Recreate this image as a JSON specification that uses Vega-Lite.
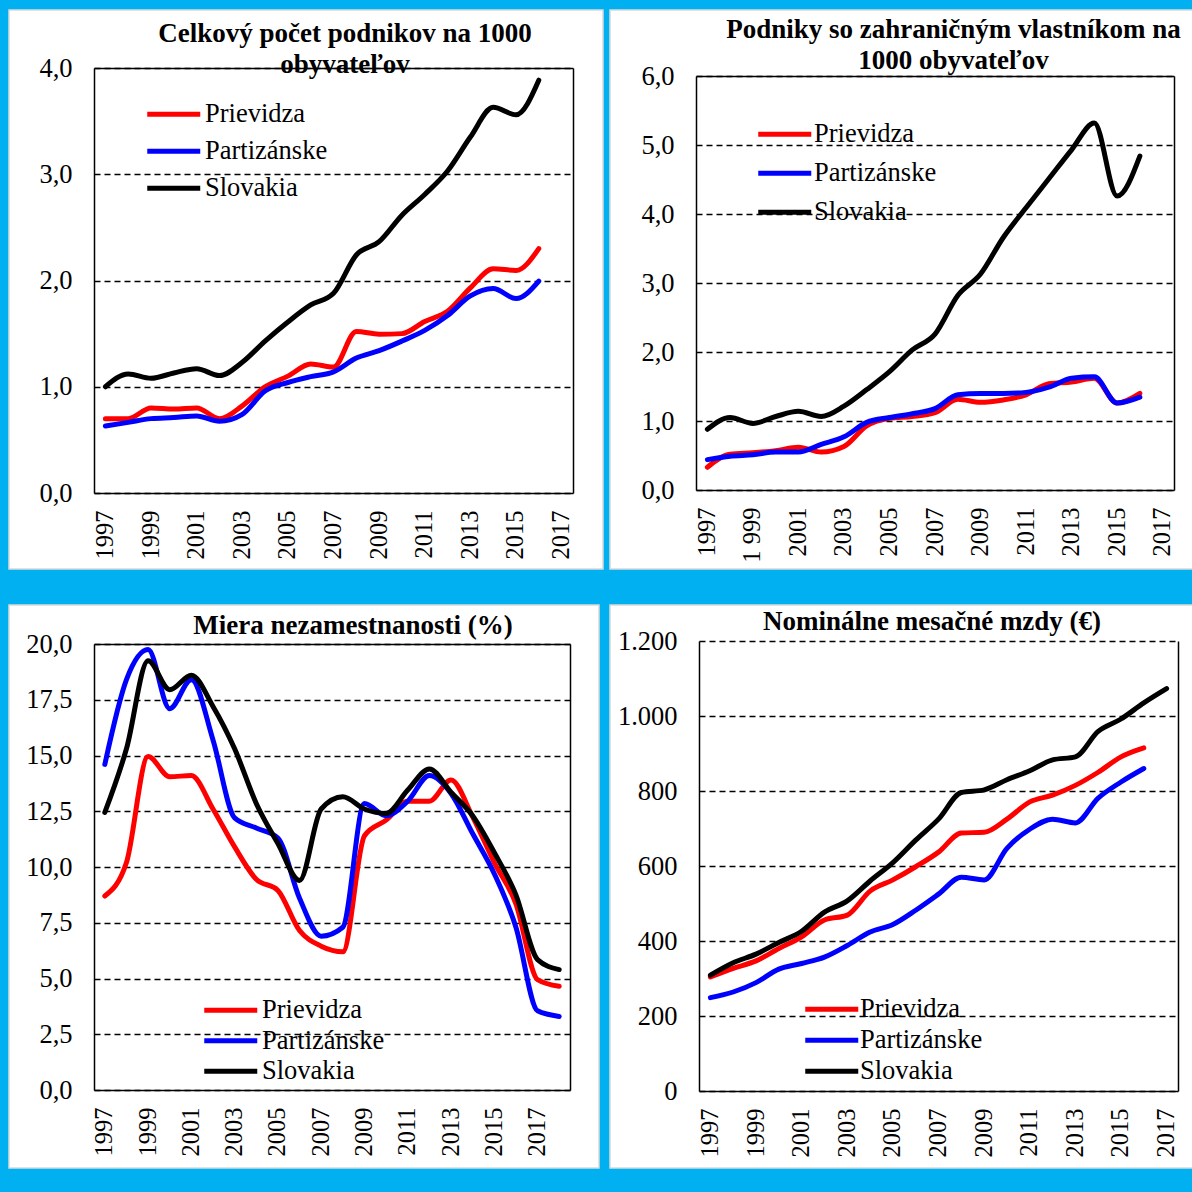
{
  "$schema": "https://vega.github.io/schema/vega-lite/v6.json",
  "background": "#00B0F0",
  "padding": {"left": 8, "top": 9, "right": 0, "bottom": 25},
  "autosize": {"type": "pad"},
  "columns": 2,
  "spacing": {"row": 36, "column": 7},
  "bounds": "flush",
  "align": "none",
  "resolve": {"scale": {"color": "independent"}, "legend": {"color": "independent"}},
  "config": {
    "locale": {"number": {"decimal": ",", "thousands": ".", "grouping": [3], "currency": ["", " €"]}},
    "font": "Liberation Serif",
    "style": {"guide-label": {"font": "Liberation Serif", "fill": "#000000"}},
    "axis": {"labelFont": "Liberation Serif", "labelColor": "#000000", "ticks": false, "domainColor": "#000000", "domainWidth": 1.5, "gridColor": "#000000", "gridDash": [6, 4], "gridWidth": 1.5, "gridOpacity": 1},
    "axisX": {"labelAngle": -90, "labelFontSize": 24.5, "labelPadding": 17, "grid": false},
    "axisY": {"labelFontSize": 26.5, "labelPadding": 22, "grid": true},
    "legend": {"orient": "none", "title": null, "symbolType": "M-1,0H9.6", "symbolStrokeWidth": 5, "symbolSize": 100, "labelFont": "Liberation Serif", "labelFontSize": 26.5, "labelColor": "#000000", "padding": 0, "labelLimit": 400},
    "title": {"font": "Liberation Serif", "fontSize": 27, "fontWeight": "bold", "color": "#000000", "anchor": "middle", "frame": "group", "lineHeight": 31, "offset": 0}
  },
  "datasets": {
    "p1": [
      {"y":1997,"s":"Prievidza","v":0.70},{"y":1997,"s":"Partizánske","v":0.63},{"y":1997,"s":"Slovakia","v":1.00},
      {"y":1998,"s":"Prievidza","v":0.70},{"y":1998,"s":"Partizánske","v":0.665},{"y":1998,"s":"Slovakia","v":1.12},
      {"y":1999,"s":"Prievidza","v":0.80},{"y":1999,"s":"Partizánske","v":0.70},{"y":1999,"s":"Slovakia","v":1.08},
      {"y":2000,"s":"Prievidza","v":0.79},{"y":2000,"s":"Partizánske","v":0.71},{"y":2000,"s":"Slovakia","v":1.13},
      {"y":2001,"s":"Prievidza","v":0.80},{"y":2001,"s":"Partizánske","v":0.725},{"y":2001,"s":"Slovakia","v":1.17},
      {"y":2002,"s":"Prievidza","v":0.70},{"y":2002,"s":"Partizánske","v":0.675},{"y":2002,"s":"Slovakia","v":1.105},
      {"y":2003,"s":"Prievidza","v":0.82},{"y":2003,"s":"Partizánske","v":0.74},{"y":2003,"s":"Slovakia","v":1.23},
      {"y":2004,"s":"Prievidza","v":1.00},{"y":2004,"s":"Partizánske","v":0.96},{"y":2004,"s":"Slovakia","v":1.43},
      {"y":2005,"s":"Prievidza","v":1.10},{"y":2005,"s":"Partizánske","v":1.04},{"y":2005,"s":"Slovakia","v":1.61},
      {"y":2006,"s":"Prievidza","v":1.215},{"y":2006,"s":"Partizánske","v":1.095},{"y":2006,"s":"Slovakia","v":1.77},
      {"y":2007,"s":"Prievidza","v":1.185},{"y":2007,"s":"Partizánske","v":1.14},{"y":2007,"s":"Slovakia","v":1.88},
      {"y":2008,"s":"Prievidza","v":1.52},{"y":2008,"s":"Partizánske","v":1.27},{"y":2008,"s":"Slovakia","v":2.24},
      {"y":2009,"s":"Prievidza","v":1.495},{"y":2009,"s":"Partizánske","v":1.34},{"y":2009,"s":"Slovakia","v":2.365},
      {"y":2010,"s":"Prievidza","v":1.50},{"y":2010,"s":"Partizánske","v":1.43},{"y":2010,"s":"Slovakia","v":2.615},
      {"y":2011,"s":"Prievidza","v":1.615},{"y":2011,"s":"Partizánske","v":1.53},{"y":2011,"s":"Slovakia","v":2.81},
      {"y":2012,"s":"Prievidza","v":1.71},{"y":2012,"s":"Partizánske","v":1.67},{"y":2012,"s":"Slovakia","v":3.03},
      {"y":2013,"s":"Prievidza","v":1.93},{"y":2013,"s":"Partizánske","v":1.855},{"y":2013,"s":"Slovakia","v":3.35},
      {"y":2014,"s":"Prievidza","v":2.11},{"y":2014,"s":"Partizánske","v":1.925},{"y":2014,"s":"Slovakia","v":3.63},
      {"y":2015,"s":"Prievidza","v":2.095},{"y":2015,"s":"Partizánske","v":1.83},{"y":2015,"s":"Slovakia","v":3.56},
      {"y":2016,"s":"Prievidza","v":2.30},{"y":2016,"s":"Partizánske","v":1.995},{"y":2016,"s":"Slovakia","v":3.885}
    ],
    "p2": [
      {"y":1997,"s":"Prievidza","v":0.33},{"y":1997,"s":"Partizánske","v":0.44},{"y":1997,"s":"Slovakia","v":0.88},
      {"y":1998,"s":"Prievidza","v":0.52},{"y":1998,"s":"Partizánske","v":0.49},{"y":1998,"s":"Slovakia","v":1.05},
      {"y":1999,"s":"Prievidza","v":0.54},{"y":1999,"s":"Partizánske","v":0.51},{"y":1999,"s":"Slovakia","v":0.965},
      {"y":2000,"s":"Prievidza","v":0.57},{"y":2000,"s":"Partizánske","v":0.55},{"y":2000,"s":"Slovakia","v":1.065},
      {"y":2001,"s":"Prievidza","v":0.62},{"y":2001,"s":"Partizánske","v":0.55},{"y":2001,"s":"Slovakia","v":1.14},
      {"y":2002,"s":"Prievidza","v":0.55},{"y":2002,"s":"Partizánske","v":0.66},{"y":2002,"s":"Slovakia","v":1.065},
      {"y":2003,"s":"Prievidza","v":0.63},{"y":2003,"s":"Partizánske","v":0.77},{"y":2003,"s":"Slovakia","v":1.215},
      {"y":2004,"s":"Prievidza","v":0.93},{"y":2004,"s":"Partizánske","v":0.98},{"y":2004,"s":"Slovakia","v":1.455},
      {"y":2005,"s":"Prievidza","v":1.04},{"y":2005,"s":"Partizánske","v":1.05},{"y":2005,"s":"Slovakia","v":1.715},
      {"y":2006,"s":"Prievidza","v":1.065},{"y":2006,"s":"Partizánske","v":1.105},{"y":2006,"s":"Slovakia","v":2.03},
      {"y":2007,"s":"Prievidza","v":1.12},{"y":2007,"s":"Partizánske","v":1.18},{"y":2007,"s":"Slovakia","v":2.26},
      {"y":2008,"s":"Prievidza","v":1.315},{"y":2008,"s":"Partizánske","v":1.38},{"y":2008,"s":"Slovakia","v":2.82},
      {"y":2009,"s":"Prievidza","v":1.27},{"y":2009,"s":"Partizánske","v":1.40},{"y":2009,"s":"Slovakia","v":3.13},
      {"y":2010,"s":"Prievidza","v":1.305},{"y":2010,"s":"Partizánske","v":1.40},{"y":2010,"s":"Slovakia","v":3.66},
      {"y":2011,"s":"Prievidza","v":1.38},{"y":2011,"s":"Partizánske","v":1.415},{"y":2011,"s":"Slovakia","v":4.09},
      {"y":2012,"s":"Prievidza","v":1.54},{"y":2012,"s":"Partizánske","v":1.49},{"y":2012,"s":"Slovakia","v":4.51},
      {"y":2013,"s":"Prievidza","v":1.565},{"y":2013,"s":"Partizánske","v":1.62},{"y":2013,"s":"Slovakia","v":4.93},
      {"y":2014,"s":"Prievidza","v":1.62},{"y":2014,"s":"Partizánske","v":1.64},{"y":2014,"s":"Slovakia","v":5.32},
      {"y":2015,"s":"Prievidza","v":1.26},{"y":2015,"s":"Partizánske","v":1.26},{"y":2015,"s":"Slovakia","v":4.26},
      {"y":2016,"s":"Prievidza","v":1.40},{"y":2016,"s":"Partizánske","v":1.345},{"y":2016,"s":"Slovakia","v":4.84}
    ],
    "p3": [
      {"y":1997,"s":"Prievidza","v":8.7},{"y":1997,"s":"Partizánske","v":14.6},{"y":1997,"s":"Slovakia","v":12.45},
      {"y":1998,"s":"Prievidza","v":10.2},{"y":1998,"s":"Partizánske","v":18.4},{"y":1998,"s":"Slovakia","v":15.3},
      {"y":1999,"s":"Prievidza","v":14.95},{"y":1999,"s":"Partizánske","v":19.75},{"y":1999,"s":"Slovakia","v":19.25},
      {"y":2000,"s":"Prievidza","v":14.05},{"y":2000,"s":"Partizánske","v":17.1},{"y":2000,"s":"Slovakia","v":17.95},
      {"y":2001,"s":"Prievidza","v":14.1},{"y":2001,"s":"Partizánske","v":18.4},{"y":2001,"s":"Slovakia","v":18.6},
      {"y":2002,"s":"Prievidza","v":12.6},{"y":2002,"s":"Partizánske","v":15.7},{"y":2002,"s":"Slovakia","v":17.2},
      {"y":2003,"s":"Prievidza","v":10.9},{"y":2003,"s":"Partizánske","v":12.2},{"y":2003,"s":"Slovakia","v":15.3},
      {"y":2004,"s":"Prievidza","v":9.45},{"y":2004,"s":"Partizánske","v":11.75},{"y":2004,"s":"Slovakia","v":12.85},
      {"y":2005,"s":"Prievidza","v":8.95},{"y":2005,"s":"Partizánske","v":11.3},{"y":2005,"s":"Slovakia","v":11.05},
      {"y":2006,"s":"Prievidza","v":7.15},{"y":2006,"s":"Partizánske","v":8.6},{"y":2006,"s":"Slovakia","v":9.4},
      {"y":2007,"s":"Prievidza","v":6.45},{"y":2007,"s":"Partizánske","v":6.9},{"y":2007,"s":"Slovakia","v":12.6},
      {"y":2008,"s":"Prievidza","v":6.2},{"y":2008,"s":"Partizánske","v":7.3},{"y":2008,"s":"Slovakia","v":13.15},
      {"y":2009,"s":"Prievidza","v":11.4},{"y":2009,"s":"Partizánske","v":12.85},{"y":2009,"s":"Slovakia","v":12.6},
      {"y":2010,"s":"Prievidza","v":12.1},{"y":2010,"s":"Partizánske","v":12.3},{"y":2010,"s":"Slovakia","v":12.4},
      {"y":2011,"s":"Prievidza","v":12.95},{"y":2011,"s":"Partizánske","v":12.95},{"y":2011,"s":"Slovakia","v":13.45},
      {"y":2012,"s":"Prievidza","v":12.95},{"y":2012,"s":"Partizánske","v":14.1},{"y":2012,"s":"Slovakia","v":14.4},
      {"y":2013,"s":"Prievidza","v":13.9},{"y":2013,"s":"Partizánske","v":13.3},{"y":2013,"s":"Slovakia","v":13.35},
      {"y":2014,"s":"Prievidza","v":12.25},{"y":2014,"s":"Partizánske","v":11.5},{"y":2014,"s":"Slovakia","v":12.3},
      {"y":2015,"s":"Prievidza","v":10.2},{"y":2015,"s":"Partizánske","v":9.7},{"y":2015,"s":"Slovakia","v":10.65},
      {"y":2016,"s":"Prievidza","v":8.35},{"y":2016,"s":"Partizánske","v":7.3},{"y":2016,"s":"Slovakia","v":8.75},
      {"y":2017,"s":"Prievidza","v":4.95},{"y":2017,"s":"Partizánske","v":3.55},{"y":2017,"s":"Slovakia","v":5.85},
      {"y":2018,"s":"Prievidza","v":4.65},{"y":2018,"s":"Partizánske","v":3.3},{"y":2018,"s":"Slovakia","v":5.4}
    ],
    "p4": [
      {"y":1997,"s":"Prievidza","v":304},{"y":1997,"s":"Partizánske","v":249},{"y":1997,"s":"Slovakia","v":309},
      {"y":1998,"s":"Prievidza","v":327},{"y":1998,"s":"Partizánske","v":264},{"y":1998,"s":"Slovakia","v":342},
      {"y":1999,"s":"Prievidza","v":347},{"y":1999,"s":"Partizánske","v":289},{"y":1999,"s":"Slovakia","v":365},
      {"y":2000,"s":"Prievidza","v":380},{"y":2000,"s":"Partizánske","v":325},{"y":2000,"s":"Slovakia","v":396},
      {"y":2001,"s":"Prievidza","v":411},{"y":2001,"s":"Partizánske","v":340},{"y":2001,"s":"Slovakia","v":426},
      {"y":2002,"s":"Prievidza","v":456},{"y":2002,"s":"Partizánske","v":357},{"y":2002,"s":"Slovakia","v":477},
      {"y":2003,"s":"Prievidza","v":469},{"y":2003,"s":"Partizánske","v":388},{"y":2003,"s":"Slovakia","v":507},
      {"y":2004,"s":"Prievidza","v":533},{"y":2004,"s":"Partizánske","v":424},{"y":2004,"s":"Slovakia","v":560},
      {"y":2005,"s":"Prievidza","v":563},{"y":2005,"s":"Partizánske","v":444},{"y":2005,"s":"Slovakia","v":609},
      {"y":2006,"s":"Prievidza","v":598},{"y":2006,"s":"Partizánske","v":482},{"y":2006,"s":"Slovakia","v":669},
      {"y":2007,"s":"Prievidza","v":637},{"y":2007,"s":"Partizánske","v":525},{"y":2007,"s":"Slovakia","v":725},
      {"y":2008,"s":"Prievidza","v":688},{"y":2008,"s":"Partizánske","v":570},{"y":2008,"s":"Slovakia","v":796},
      {"y":2009,"s":"Prievidza","v":690},{"y":2009,"s":"Partizánske","v":563},{"y":2009,"s":"Slovakia","v":803},
      {"y":2010,"s":"Prievidza","v":725},{"y":2010,"s":"Partizánske","v":647},{"y":2010,"s":"Slovakia","v":830},
      {"y":2011,"s":"Prievidza","v":771},{"y":2011,"s":"Partizánske","v":698},{"y":2011,"s":"Slovakia","v":854},
      {"y":2012,"s":"Prievidza","v":789},{"y":2012,"s":"Partizánske","v":725},{"y":2012,"s":"Slovakia","v":883},
      {"y":2013,"s":"Prievidza","v":815},{"y":2013,"s":"Partizánske","v":715},{"y":2013,"s":"Slovakia","v":891},
      {"y":2014,"s":"Prievidza","v":850},{"y":2014,"s":"Partizánske","v":781},{"y":2014,"s":"Slovakia","v":959},
      {"y":2015,"s":"Prievidza","v":891},{"y":2015,"s":"Partizánske","v":824},{"y":2015,"s":"Slovakia","v":992},
      {"y":2016,"s":"Prievidza","v":915},{"y":2016,"s":"Partizánske","v":860},{"y":2016,"s":"Slovakia","v":1035},
      {"y":2017,"s":"Slovakia","v":1073}
    ]
  },
  "concat": [
    {
      "width": 594, "height": 559,
      "view": {"fill": "#FFFFFF", "stroke": "#D9D9D9", "strokeWidth": 1.5},
      "title": {"text": ["Celkový počet podnikov na 1000", "obyvateľov"], "dx": 39, "dy": 73},
      "data": {"name": "p1"},
      "layer": [
        {
          "mark": {"type": "line", "interpolate": "monotone", "strokeWidth": 5, "strokeCap": "round"},
          "encoding": {
            "x": {"field": "y", "type": "ordinal", "title": null,
                  "scale": {"type": "point", "domain": [1997,1998,1999,2000,2001,2002,2003,2004,2005,2006,2007,2008,2009,2010,2011,2012,2013,2014,2015,2016,2017], "range": [85, 564], "padding": 0.5},
                  "axis": {"values": [1997,1999,2001,2003,2005,2007,2009,2011,2013,2015,2017], "offset": -76, "labelFont": "Liberation Serif"}},
            "y": {"field": "v", "type": "quantitative", "title": null,
                  "scale": {"domain": [0, 4], "range": [483, 58], "nice": false},
                  "axis": {"values": [0,1,2,3,4], "format": ".1f", "offset": -85, "labelFont": "Liberation Serif"}},
            "color": {"field": "s", "type": "nominal",
                      "scale": {"domain": ["Prievidza","Partizánske","Slovakia"], "range": ["#FF0000","#0000FF","#000000"]},
                      "legend": {"legendX": 130, "legendY": 91, "rowPadding": 10, "labelOffset": 39.5, "labelFont": "Liberation Serif"}}
          }
        },
        {
          "mark": {"type": "line", "opacity": 0},
          "encoding": {
            "x": {"field": "y", "type": "ordinal", "title": null, "axis": {"orient": "top", "offset": -58, "labels": false, "grid": false}},
            "y": {"field": "v", "type": "quantitative", "title": null, "axis": {"orient": "right", "offset": -30, "labels": false, "grid": false}}
          }
        }
      ],
      "resolve": {"axis": {"x": "independent", "y": "independent"}}
    },
    {
      "width": 583, "height": 559,
      "view": {"fill": "#FFFFFF", "stroke": "#D9D9D9", "strokeWidth": 1.5},
      "title": {"text": ["Podniky so zahraničným vlastníkom na", "1000 obyvateľov"], "dx": 52, "dy": 69},
      "data": {"name": "p2"},
      "layer": [
        {
          "mark": {"type": "line", "interpolate": "monotone", "strokeWidth": 5, "strokeCap": "round"},
          "encoding": {
            "x": {"field": "y", "type": "ordinal", "title": null,
                  "scale": {"type": "point", "domain": [1997,1998,1999,2000,2001,2002,2003,2004,2005,2006,2007,2008,2009,2010,2011,2012,2013,2014,2015,2016,2017], "range": [86, 564], "padding": 0.5},
                  "axis": {"values": [1997,1999,2001,2003,2005,2007,2009,2011,2013,2015,2017], "offset": -79, "labelFont": "Liberation Serif", "labelExpr": "datum.value == 1999 ? '1 999' : datum.label"}},
            "y": {"field": "v", "type": "quantitative", "title": null,
                  "scale": {"domain": [0, 6], "range": [480, 66], "nice": false},
                  "axis": {"values": [0,1,2,3,4,5,6], "format": ".1f", "offset": -86, "labelFont": "Liberation Serif"}},
            "color": {"field": "s", "type": "nominal",
                      "scale": {"domain": ["Prievidza","Partizánske","Slovakia"], "range": ["#FF0000","#0000FF","#000000"]},
                      "legend": {"legendX": 140, "legendY": 111, "rowPadding": 12, "labelOffset": 37.5, "labelFont": "Liberation Serif"}}
          }
        },
        {
          "mark": {"type": "line", "opacity": 0},
          "encoding": {
            "x": {"field": "y", "type": "ordinal", "title": null, "axis": {"orient": "top", "offset": -66, "labels": false, "grid": false}},
            "y": {"field": "v", "type": "quantitative", "title": null, "axis": {"orient": "right", "offset": -19, "labels": false, "grid": false}}
          }
        }
      ],
      "resolve": {"axis": {"x": "independent", "y": "independent"}}
    },
    {
      "width": 590, "height": 563,
      "view": {"fill": "#FFFFFF", "stroke": "#D9D9D9", "strokeWidth": 1.5},
      "title": {"text": "Miera nezamestnanosti (%)", "dx": 49, "dy": 39},
      "data": {"name": "p3"},
      "layer": [
        {
          "mark": {"type": "line", "interpolate": "monotone", "strokeWidth": 5, "strokeCap": "round"},
          "encoding": {
            "x": {"field": "y", "type": "ordinal", "title": null,
                  "scale": {"type": "point", "domain": [1997,1998,1999,2000,2001,2002,2003,2004,2005,2006,2007,2008,2009,2010,2011,2012,2013,2014,2015,2016,2017,2018], "range": [85, 561], "padding": 0.5},
                  "axis": {"values": [1997,1999,2001,2003,2005,2007,2009,2011,2013,2015,2017], "offset": -78, "labelFont": "Liberation Serif"}},
            "y": {"field": "v", "type": "quantitative", "title": null,
                  "scale": {"domain": [0, 20], "range": [485, 39], "nice": false},
                  "axis": {"values": [0,2.5,5,7.5,10,12.5,15,17.5,20], "format": ".1f", "offset": -85, "labelFont": "Liberation Serif"}},
            "color": {"field": "s", "type": "nominal",
                      "scale": {"domain": ["Prievidza","Partizánske","Slovakia"], "range": ["#FF0000","#0000FF","#000000"]},
                      "legend": {"legendX": 187, "legendY": 392, "rowPadding": 3.5, "labelOffset": 39.5, "labelFont": "Liberation Serif"}}
          }
        },
        {
          "mark": {"type": "line", "opacity": 0},
          "encoding": {
            "x": {"field": "y", "type": "ordinal", "title": null, "axis": {"orient": "top", "offset": -39, "labels": false, "grid": false}},
            "y": {"field": "v", "type": "quantitative", "title": null, "axis": {"orient": "right", "offset": -29, "labels": false, "grid": false}}
          }
        }
      ],
      "resolve": {"axis": {"x": "independent", "y": "independent"}}
    },
    {
      "width": 587, "height": 563,
      "view": {"fill": "#FFFFFF", "stroke": "#D9D9D9", "strokeWidth": 1.5},
      "title": {"text": "Nominálne mesačné mzdy (€)", "dx": 28.5, "dy": 35},
      "data": {"name": "p4"},
      "layer": [
        {
          "mark": {"type": "line", "interpolate": "monotone", "strokeWidth": 5, "strokeCap": "round"},
          "encoding": {
            "x": {"field": "y", "type": "ordinal", "title": null,
                  "scale": {"type": "point", "domain": [1997,1998,1999,2000,2001,2002,2003,2004,2005,2006,2007,2008,2009,2010,2011,2012,2013,2014,2015,2016,2017], "range": [89, 568], "padding": 0.5},
                  "axis": {"values": [1997,1999,2001,2003,2005,2007,2009,2011,2013,2015,2017], "offset": -77, "labelFont": "Liberation Serif"}},
            "y": {"field": "v", "type": "quantitative", "title": null,
                  "scale": {"domain": [0, 1200], "range": [486, 36], "nice": false},
                  "axis": {"values": [0,200,400,600,800,1000,1200], "format": ",.0f", "offset": -89, "labelFont": "Liberation Serif"}},
            "color": {"field": "s", "type": "nominal",
                      "scale": {"domain": ["Prievidza","Partizánske","Slovakia"], "range": ["#FF0000","#0000FF","#000000"]},
                      "legend": {"legendX": 187, "legendY": 391, "rowPadding": 4, "labelOffset": 36.5, "labelFont": "Liberation Serif"}}
          }
        },
        {
          "mark": {"type": "line", "opacity": 0},
          "encoding": {
            "x": {"field": "y", "type": "ordinal", "title": null, "axis": null},
            "y": {"field": "v", "type": "quantitative", "title": null, "axis": {"orient": "right", "offset": -19, "labels": false, "grid": false}}
          }
        }
      ],
      "resolve": {"axis": {"x": "independent", "y": "independent"}}
    }
  ]
}
